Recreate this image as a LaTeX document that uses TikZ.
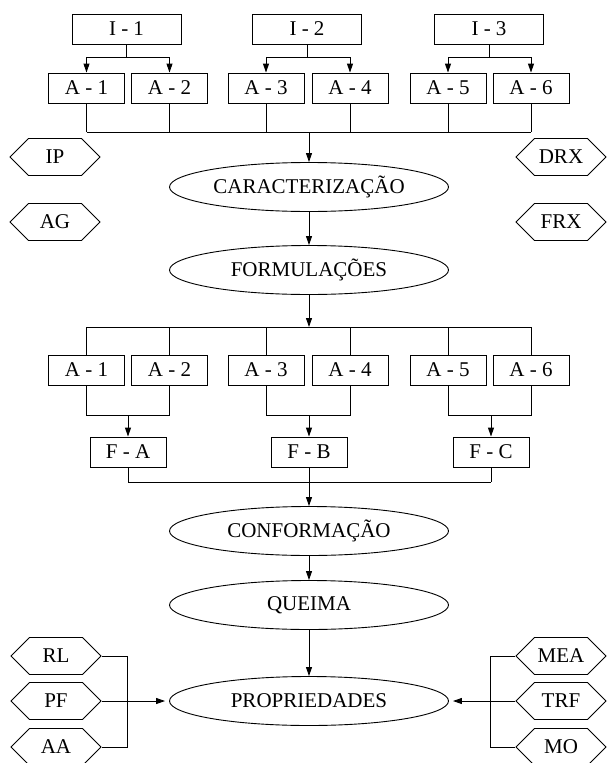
\documentclass[tikz,border=0pt]{standalone}
\usepackage{fontspec}
\setmainfont{Liberation Serif}
\usetikzlibrary{shapes.geometric,shapes.symbols,arrows.meta}
\begin{document}
\begin{tikzpicture}[x=1pt,y=-1pt,
  every node/.style={font=\fontsize{21}{25}\selectfont, line width=0.9pt},
  line width=0.9pt,
  ibox/.style={draw, rectangle, minimum width=109pt, minimum height=30pt, inner sep=0pt},
  abox/.style={draw, rectangle, minimum width=76pt, minimum height=30pt, inner sep=0pt},
  ell/.style={draw, ellipse, minimum width=279pt, minimum height=49pt, inner sep=0pt},
  hexa/.style={draw, shape=signal, signal to=west and east, signal pointer angle=90, minimum width=90pt, minimum height=37pt, inner sep=0pt},
  arr/.style={-{Triangle[length=9pt,width=6pt]}}]
\useasboundingbox (0,0) rectangle (606,763);
% top
\node[ibox] (I1) at (126.5,29) {I - 1};
\node[ibox] (I2) at (307,29) {I - 2};
\node[ibox] (I3) at (489,29) {I - 3};
\node[abox] (A1) at (86.5,88) {A - 1};
\node[abox] (A2) at (169.5,88) {A - 2};
\node[abox] (A3) at (266,88) {A - 3};
\node[abox] (A4) at (350,88) {A - 4};
\node[abox] (A5) at (448,88) {A - 5};
\node[abox] (A6) at (531,88) {A - 6};
\coordinate (t1) at (0,57);
\coordinate (b1) at (0,132);
\coordinate (mid) at (309,0);
\foreach \i/\a/\b in {I1/A1/A2,I2/A3/A4,I3/A5/A6}{
  \draw (\i.south) -- (\i.south |- t1);
  \draw[arr] (\i.south |- t1) -| (\a.north);
  \draw[arr] (\i.south |- t1) -| (\b.north);
}
\foreach \a in {A1,A2,A3,A4,A5,A6}{ \draw (\a.south) -- (\a.south |- b1); }
\draw (A1.south |- b1) -- (A6.south |- b1);
% ellipses
\node[ell] (CAR) at (309,187) {CARACTERIZAÇÃO};
\node[ell] (FOR) at (309,270) {FORMULAÇÕES};
\node[ell] (CON) at (309,531) {CONFORMAÇÃO};
\node[ell] (QUE) at (309,605) {QUEIMA};
\node[ell] (PRO) at (309,701) {PROPRIEDADES};
\draw[arr] (mid |- b1) -- (CAR.north);
\draw[arr] (CAR.south) -- (FOR.north);
% hexagons
\node[hexa] (IP) at (55,157) {IP};
\node[hexa] (AG) at (55,222) {AG};
\node[hexa] (DRX) at (561,157) {DRX};
\node[hexa] (FRX) at (561,222) {FRX};
% second row
\node[abox] (B1) at (86.5,370) {A - 1};
\node[abox] (B2) at (169.5,370) {A - 2};
\node[abox] (B3) at (266,370) {A - 3};
\node[abox] (B4) at (350,370) {A - 4};
\node[abox] (B5) at (448,370) {A - 5};
\node[abox] (B6) at (531,370) {A - 6};
\coordinate (t2) at (0,327);
\coordinate (m2) at (0,415);
\coordinate (m3) at (0,482);
\draw[arr] (FOR.south) -- (mid |- t2);
\draw (B1.north |- t2) -- (B6.north |- t2);
\foreach \a in {B1,B2,B3,B4,B5,B6}{ \draw (\a.north |- t2) -- (\a.north); }
\node[abox] (FA) at (128,452) {F - A};
\node[abox] (FB) at (309,452) {F - B};
\node[abox] (FC) at (491,452) {F - C};
\foreach \a/\b/\f in {B1/B2/FA,B3/B4/FB,B5/B6/FC}{
  \draw (\a.south) |- (\b.south |- m2) -- (\b.south);
  \draw[arr] (\f.north |- m2) -- (\f.north);
  \draw (\f.south) -- (\f.south |- m3);
}
\draw (FA.south |- m3) -- (FC.south |- m3);
\draw[arr] (mid |- m3) -- (CON.north);
\draw[arr] (CON.south) -- (QUE.north);
\draw[arr] (QUE.south) -- (PRO.north);
% bottom hexagons
\node[hexa] (RL) at (56,656) {RL};
\node[hexa] (PF) at (56,701) {PF};
\node[hexa] (AA) at (56,747) {AA};
\node[hexa] (MEA) at (561,656) {MEA};
\node[hexa] (TRF) at (561,701) {TRF};
\node[hexa] (MO) at (561,747) {MO};
\coordinate (lb) at (127,0);
\coordinate (rb) at (490,0);
\draw (RL.east) -- (RL.east -| lb) -- (AA.east -| lb) -- (AA.east);
\draw[arr, shorten >=4pt] (PF.east) -- (PRO.west);
\draw (MEA.west) -- (MEA.west -| rb) -- (MO.west -| rb) -- (MO.west);
\draw[arr, shorten >=4pt] (TRF.west) -- (PRO.east);
\end{tikzpicture}
\end{document}
